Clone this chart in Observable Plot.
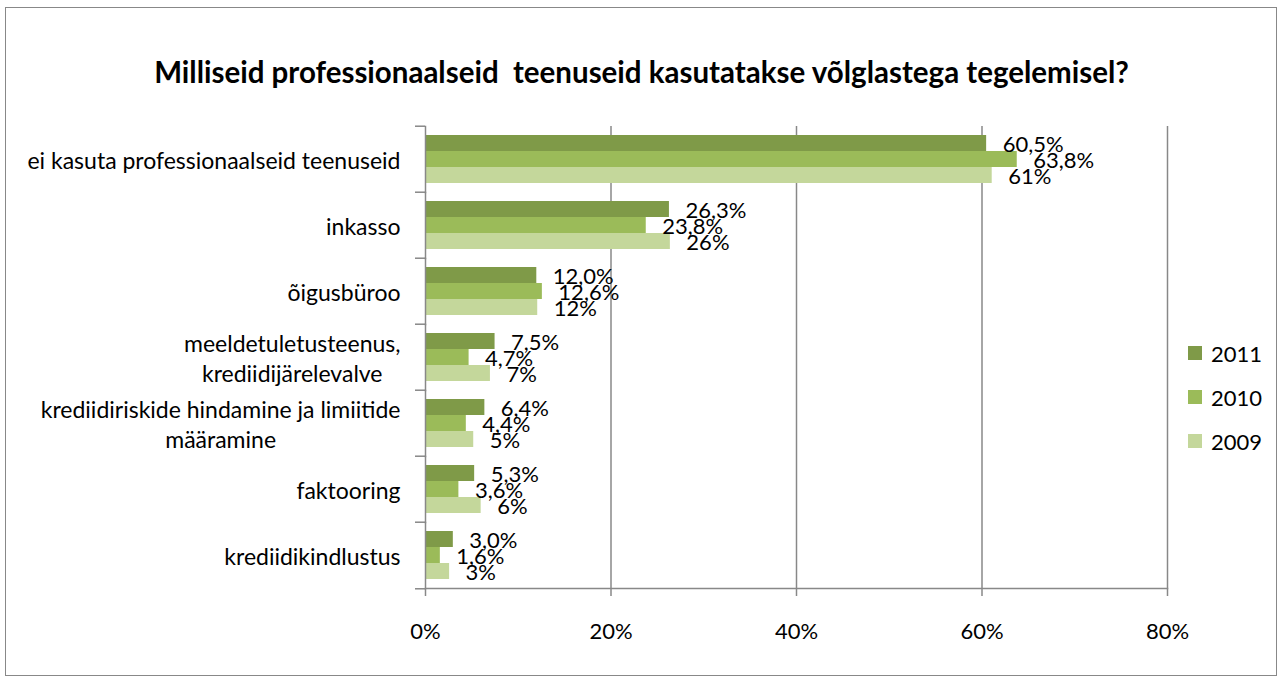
<!DOCTYPE html>
<html><head><meta charset="utf-8">
<script src="https://cdn.jsdelivr.net/npm/d3@7"></script>
<script src="https://cdn.jsdelivr.net/npm/@observablehq/plot@0.6"></script>
<style>
body{margin:0;background:#fff;font-family:Lato,"Open Sans",sans-serif;color:#000}
#wrap{position:relative;width:1283px;height:680px;overflow:hidden;background:#fff}
#border{position:absolute;left:5px;top:7px;width:1272px;height:669px;border:1.5px solid #888;box-sizing:border-box}
#chart{position:absolute;left:0;top:0}
#title{position:absolute;left:0;width:1283px;top:52px;text-align:center;font-weight:bold;font-size:29.5px;white-space:pre;line-height:40px}
#legend{position:absolute;left:1188px;top:331px;font-size:22px}
.item{display:flex;align-items:center;height:44px}
.sw{width:14px;height:14px;margin-right:9px}
</style></head>
<body>
<div id="wrap"><div id="border"></div><div id="chart"></div><div id="title"></div><div id="legend"></div></div>
<script>
const title = "Milliseid professionaalseid  teenuseid kasutatakse võlglastega tegelemisel?";
const categories = [
  "ei kasuta professionaalseid teenuseid",
  "inkasso",
  "õigusbüroo",
  "meeldetuletusteenus,\nkrediidijärelevalve",
  "krediidiriskide hindamine ja limiitide\nmääramine",
  "faktooring",
  "krediidikindlustus"
];
const years = ["2011", "2010", "2009"];
const colors = ["#7F9A48", "#9BBB59", "#C4D79B"];
const values2011 = [60.5, 26.3, 12.0, 7.5, 6.4, 5.3, 3.0];
const values2010 = [63.8, 23.8, 12.6, 4.7, 4.4, 3.6, 1.6];
const values2009 = [61.1, 26.4, 12.1, 7.0, 5.2, 6.0, 2.6];
const labelDecimals = {"2011": 1, "2010": 1, "2009": 0};
const xTicks = [0, 20, 40, 60, 80];

const seriesByYear = {"2011": values2011, "2010": values2010, "2009": values2009};
const rows = categories.flatMap((c, i) => years.map(y => ({cat: c, year: y, value: seriesByYear[y][i]})));
const fmtLabel = d => d.value.toFixed(labelDecimals[d.year]).replace(".", ",") + "%";

const W = 1283, H = 680, mT = 124, mB = 90, mL = 425, mR = 116;
const halfStep = (H - mT - mB) / categories.length / 2;
const gray = "#888";

const chart = Plot.plot({
  width: W, height: H,
  marginLeft: mL, marginRight: mR, marginTop: mT, marginBottom: mB,
  style: {fontFamily: "Lato, 'Open Sans', sans-serif", fontSize: "22px", color: "#000", background: "transparent", overflow: "visible"},
  x: {domain: [0, 80]},
  y: {domain: years, paddingInner: 0, paddingOuter: 0.5, axis: null},
  fy: {domain: categories, padding: 0},
  color: {domain: years, range: colors},
  marks: [
    Plot.ruleX(xTicks.slice(1), {stroke: gray, strokeWidth: 1.5}),
    Plot.barX(rows, {fy: "cat", y: "year", x: "value", fill: "year"}),
    Plot.text(rows, {fy: "cat", y: "year", x: "value", text: fmtLabel, textAnchor: "start", dx: 16, dy: 1, fontSize: 22, fill: "#000"}),
    Plot.frame({anchor: "left", stroke: gray, strokeWidth: 1.5}),
    Plot.frame({anchor: "bottom", facetAnchor: "bottom", stroke: gray, strokeWidth: 1.5}),
    Plot.axisX({ticks: xTicks, tickFormat: d => d + "%", tickSize: 8, tickPadding: 27, stroke: gray, strokeWidth: 1.5, label: null, fontSize: 22, fill: "#000"}),
    Plot.axisFy({anchor: "left", tickSize: 0, tickPadding: 25, label: null, fontSize: 23, lineHeight: 1.3, fill: "#000"}),
    Plot.axisFy({anchor: "left", tickSize: 10, text: null, label: null, dy: -halfStep, stroke: gray, strokeWidth: 1.5}),
    Plot.axisFy({anchor: "left", ticks: [categories[categories.length - 1]], tickSize: 10, text: null, label: null, dy: halfStep, stroke: gray, strokeWidth: 1.5})
  ]
});
document.getElementById("chart").appendChild(chart);
document.getElementById("title").textContent = title;

// center multi-line category labels within their own right-aligned box
chart.querySelectorAll('g[aria-label="fy-axis tick label"] text').forEach(t => {
  if (t.querySelectorAll("tspan").length > 1) {
    const w = t.getBBox().width;
    t.setAttribute("text-anchor", "middle");
    const tr = t.getAttribute("transform") || "";
    t.setAttribute("transform", tr + ` translate(${-w / 2},0)`);
  }
});

const legend = document.getElementById("legend");
years.forEach((y, i) => {
  const item = document.createElement("div");
  item.className = "item";
  const sw = document.createElement("div");
  sw.className = "sw";
  sw.style.background = colors[i];
  const tx = document.createElement("span");
  tx.textContent = y;
  item.append(sw, tx);
  legend.appendChild(item);
});
</script>
</body></html>
